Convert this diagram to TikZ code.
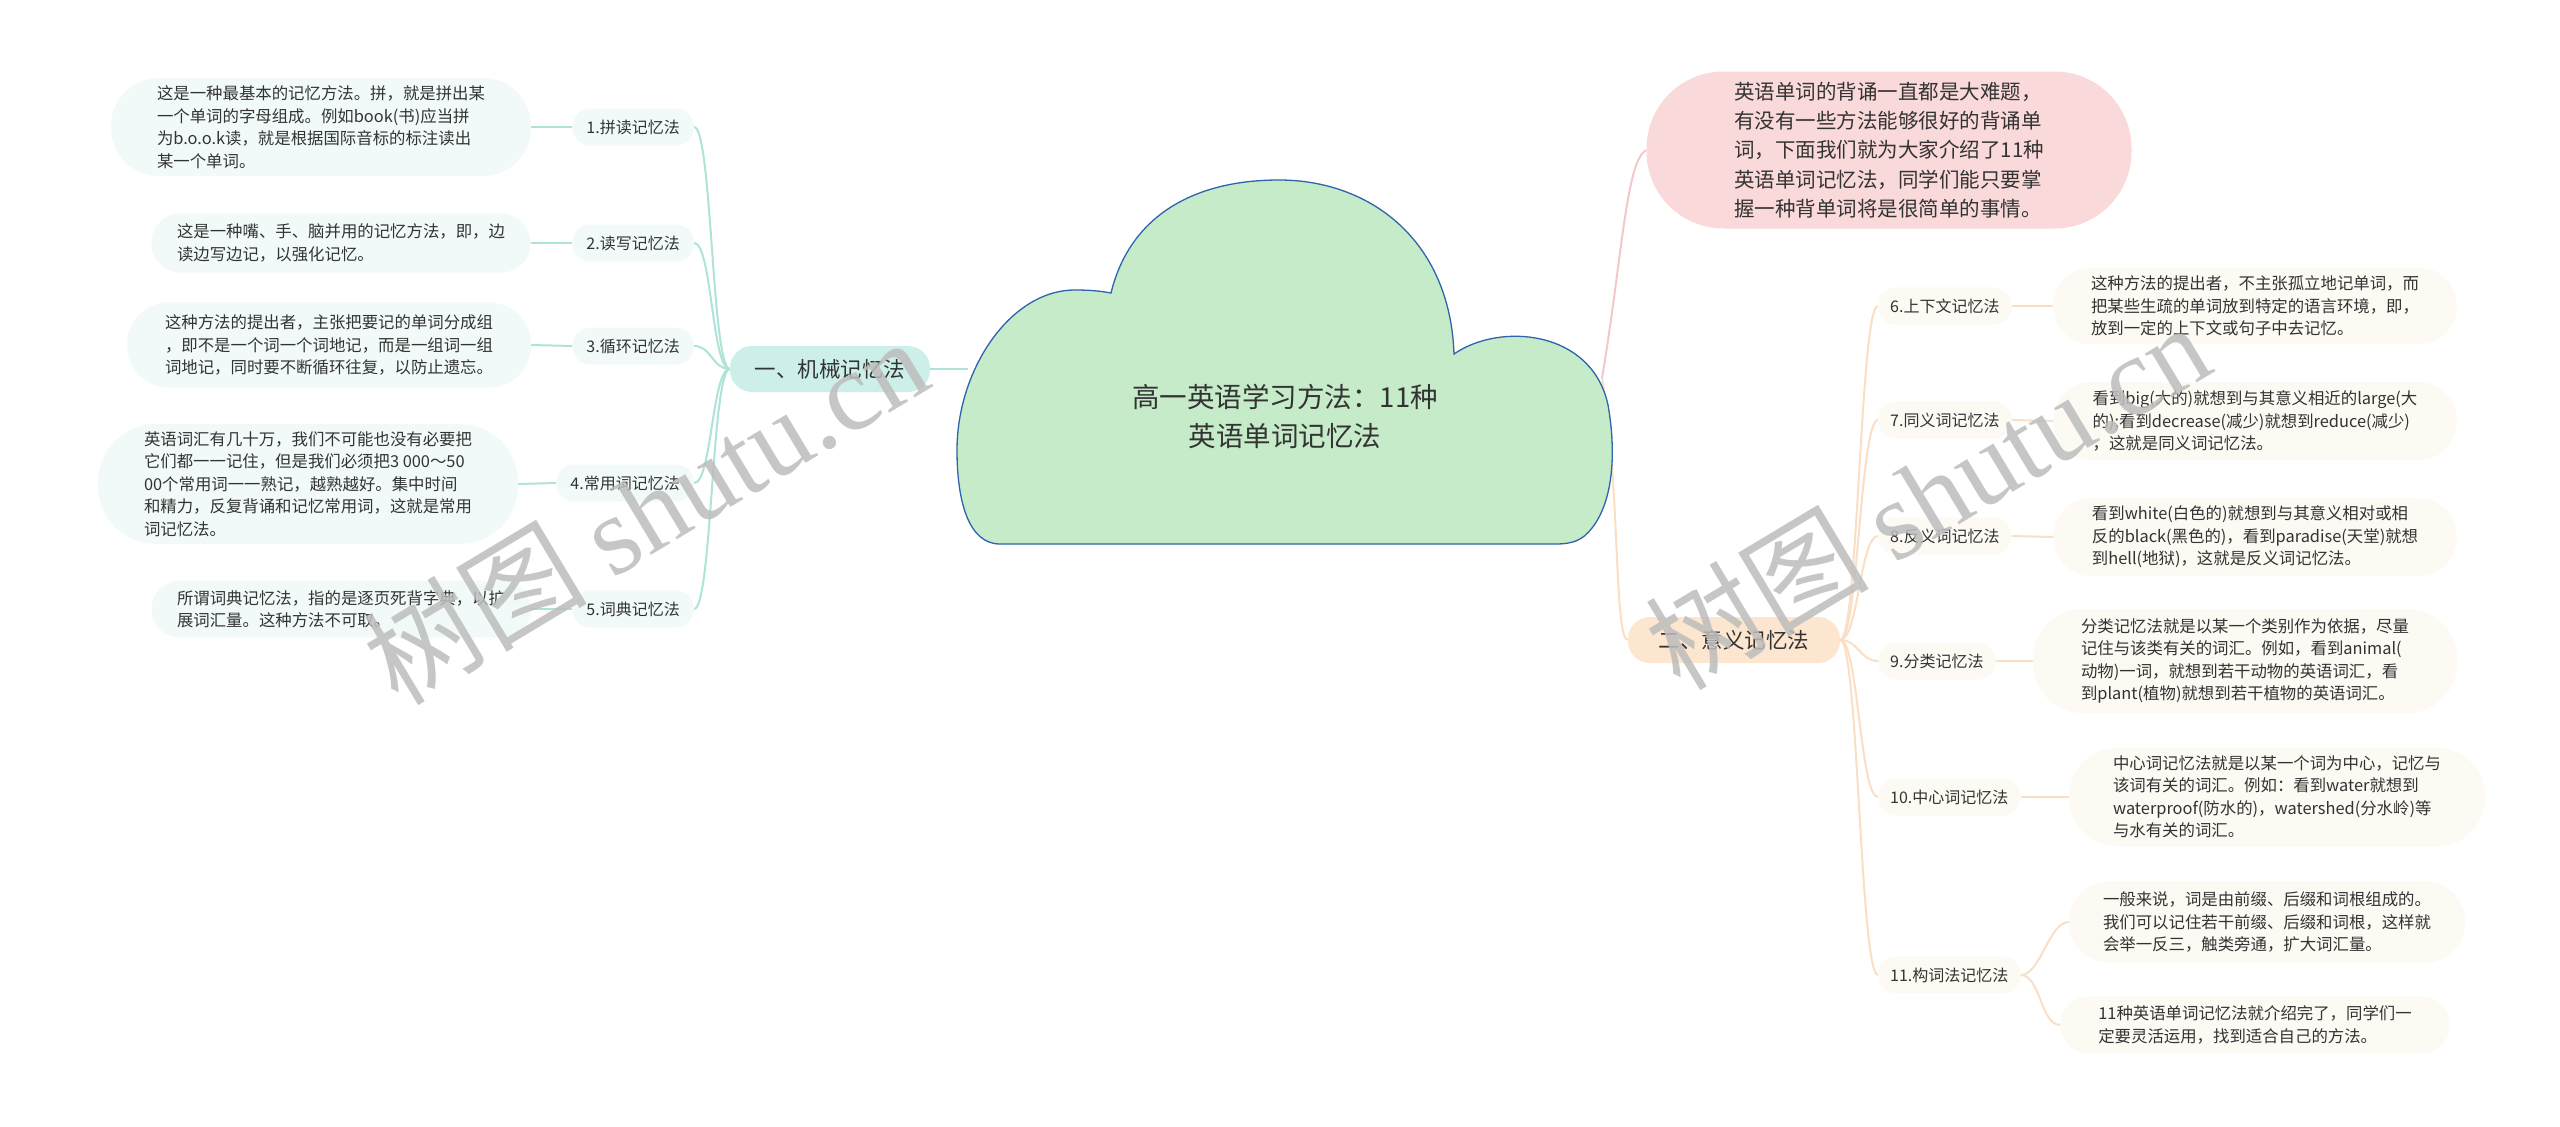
\documentclass[tikz,border=0pt]{standalone}
\usepackage{fontspec}
\setmainfont{Noto Sans CJK SC}
\newfontfamily\wmlatin{Liberation Serif}
\usetikzlibrary{calc}
\pgfdeclarelayer{bottomlayer}
\pgfdeclarelayer{background}
\pgfsetlayers{bottomlayer,background,main}
\definecolor{txt}{HTML}{333333}
\definecolor{tealline}{HTML}{AEE3DA}
\definecolor{tealmain}{HTML}{CDEFE9}
\definecolor{tealleaf}{HTML}{F2FAF9}
\definecolor{orline}{HTML}{FADFC4}
\definecolor{ormain}{HTML}{FDE6CF}
\definecolor{orleaf}{HTML}{FDF9F3}
\definecolor{pinkfill}{HTML}{FAD9DA}
\definecolor{pinkline}{HTML}{F4C8CB}
\definecolor{cloudfill}{HTML}{C6EBC9}
\definecolor{cloudline}{HTML}{2E63AE}
\definecolor{wmgray}{HTML}{BDBDBD}
\begin{document}
\begin{tikzpicture}[x=1pt,y=-1pt,
  base/.style={inner sep=0pt, text=txt, align=left},
  leafL/.style={base, fill=tealleaf, font=\fontsize{16.4pt}{22.5pt}\selectfont},
  leafR/.style={base, fill=orleaf, font=\fontsize{16.4pt}{22.5pt}\selectfont},
  labL/.style={base, fill=tealleaf, minimum height=37pt, inner xsep=14pt, rounded corners=18pt, font=\fontsize{16pt}{20pt}\selectfont},
  labR/.style={base, fill=orleaf, minimum height=37pt, inner xsep=12pt, rounded corners=18pt, font=\fontsize{16pt}{20pt}\selectfont},
  mainT/.style={base, fill=tealmain, minimum width=200pt, minimum height=46pt, rounded corners=22pt, font=\fontsize{21.5pt}{26pt}\selectfont},
  mainO/.style={base, fill=ormain, minimum width=212pt, minimum height=46pt, rounded corners=22pt, font=\fontsize{21.5pt}{26pt}\selectfont},
  lineT/.style={draw=tealline, line width=2pt},
  lineO/.style={draw=orline, line width=2pt},
  lineP/.style={draw=pinkline, line width=2pt},
  wm/.style={text=wmgray, text opacity=0.85, rotate=31, inner sep=0pt}
]
\useasboundingbox (0,0) rectangle (2560,1127);
\begin{pgfonlayer}{bottomlayer}
\fill[white] (0,0) rectangle (2560,1127);
\end{pgfonlayer}

% cloud
\filldraw[fill=cloudfill, draw=cloudline, line width=1.3pt]
  (1000,544) .. controls (968,544) and (957,500) .. (957,450)
  .. controls (957,370) and (1010,290) .. (1075,290)
  .. controls (1090,290) and (1100,291) .. (1111,293)
  .. controls (1130,215) and (1195,180) .. (1279,180)
  .. controls (1370,180) and (1450,240) .. (1454,354)
  .. controls (1500,322) and (1592,330) .. (1608,405)
  .. controls (1616,450) and (1614,500) .. (1592,528)
  .. controls (1582,541) and (1572,544) .. (1555,544)
  -- cycle;
\node[base, align=center, font=\fontsize{27.5pt}{39pt}\selectfont] (center) at (1285,416) {高一英语学习方法：11种\\英语单词记忆法};
\coordinate (cL) at (968,369);
\coordinate (cR) at (1602,378);

% left branch
\node[mainT] (M1) at (830,369) {一、机械记忆法};
\node[labL, anchor=east] (L1) at (694,127) {1.拼读记忆法};
\node[labL, anchor=east] (L2) at (694,243) {2.读写记忆法};
\node[labL, anchor=east] (L3) at (694,346) {3.循环记忆法};
\node[labL, anchor=east] (L4) at (694,483) {4.常用词记忆法};
\node[labL, anchor=east] (L5) at (694,609) {5.词典记忆法};

\node[leafL, minimum width=420pt, minimum height=98pt, rounded corners=48pt] (D1) at (321,127)
  {这是一种最基本的记忆方法。拼，就是拼出某\\一个单词的字母组成。例如book(书)应当拼\\为b.o.o.k读，就是根据国际音标的标注读出\\某一个单词。};
\node[leafL, minimum width=379pt, minimum height=59pt, rounded corners=29pt] (D2) at (341,243)
  {这是一种嘴、手、脑并用的记忆方法，即，边\\读边写边记，以强化记忆。};
\node[leafL, minimum width=404pt, minimum height=85pt, rounded corners=42pt] (D3) at (329,345)
  {这种方法的提出者，主张把要记的单词分成组\\，即不是一个词一个词地记，而是一组词一组\\词地记，同时要不断循环往复，以防止遗忘。};
\node[leafL, minimum width=420pt, minimum height=120pt, rounded corners=58pt] (D4) at (308,484)
  {英语词汇有几十万，我们不可能也没有必要把\\它们都一一记住，但是我们必须把3 000～50\\00个常用词一一熟记，越熟越好。集中时间\\和精力，反复背诵和记忆常用词，这就是常用\\词记忆法。};
\node[leafL, minimum width=379pt, minimum height=57pt, rounded corners=28pt] (D5) at (341,609)
  {所谓词典记忆法，指的是逐页死背字典，以扩\\展词汇量。这种方法不可取。};

% right side
\node[base, fill=pinkfill, minimum width=485pt, minimum height=157pt, rounded corners=77pt, font=\fontsize{20.5pt}{29.4pt}\selectfont] (intro) at (1889,150)
  {英语单词的背诵一直都是大难题，\\有没有一些方法能够很好的背诵单\\词，下面我们就为大家介绍了11种\\英语单词记忆法，同学们能只要掌\\握一种背单词将是很简单的事情。};
\node[mainO] (M2) at (1734,640) {二、意义记忆法};
\node[labR, anchor=west] (R6) at (1878,306) {6.上下文记忆法};
\node[labR, anchor=west] (R7) at (1878,420) {7.同义词记忆法};
\node[labR, anchor=west] (R8) at (1878,536) {8.反义词记忆法};
\node[labR, anchor=west] (R9) at (1878,661) {9.分类记忆法};
\node[labR, anchor=west] (R10) at (1878,797) {10.中心词记忆法};
\node[labR, anchor=west] (R11) at (1878,975) {11.构词法记忆法};

\node[leafR, minimum width=403pt, minimum height=76pt, rounded corners=37pt] (E6) at (2255,306)
  {这种方法的提出者，不主张孤立地记单词，而\\把某些生疏的单词放到特定的语言环境，即，\\放到一定的上下文或句子中去记忆。};
\node[leafR, minimum width=403pt, minimum height=78pt, rounded corners=38pt] (E7) at (2255,421)
  {看到big(大的)就想到与其意义相近的large(大\\的);看到decrease(减少)就想到reduce(减少)\\，这就是同义词记忆法。};
\node[leafR, minimum width=403pt, minimum height=78pt, rounded corners=38pt] (E8) at (2255,537)
  {看到white(白色的)就想到与其意义相对或相\\反的black(黑色的)，看到paradise(天堂)就想\\到hell(地狱)，这就是反义词记忆法。};
\node[leafR, minimum width=424pt, minimum height=104pt, rounded corners=50pt] (E9) at (2245,661)
  {分类记忆法就是以某一个类别作为依据，尽量\\记住与该类有关的词汇。例如，看到animal(\\动物)一词，就想到若干动物的英语词汇，看\\到plant(植物)就想到若干植物的英语词汇。};
\node[leafR, minimum width=416pt, minimum height=98pt, rounded corners=48pt] (E10) at (2277,797)
  {中心词记忆法就是以某一个词为中心，记忆与\\该词有关的词汇。例如：看到water就想到\\waterproof(防水的)，watershed(分水岭)等\\与水有关的词汇。};
\node[leafR, minimum width=396pt, minimum height=81pt, rounded corners=40pt] (E11a) at (2267,922)
  {一般来说，词是由前缀、后缀和词根组成的。\\我们可以记住若干前缀、后缀和词根，这样就\\会举一反三，触类旁通，扩大词汇量。};
\node[leafR, minimum width=389pt, minimum height=57pt, rounded corners=28pt] (E11b) at (2255,1025)
  {11种英语单词记忆法就介绍完了，同学们一\\定要灵活运用，找到适合自己的方法。};

% connectors
\begin{pgfonlayer}{background}
\draw[lineT] (M1.east) -- (cL);
\foreach \n in {L1,L2,L3,L4,L5}
  \draw[lineT] (\n.east) .. controls ($(\n.east)+(18,0)$) and ($(M1.west)+(-18,0)$) .. (M1.west);
\draw[lineT] (D1.east) -- (L1.west);
\draw[lineT] (D2.east) -- (L2.west);
\draw[lineT] (D3.east) -- (L3.west);
\draw[lineT] (D4.east) -- (L4.west);
\draw[lineT] (D5.east) -- (L5.west);
\draw[lineP] (cR) .. controls (1622,260) and (1626,160) .. (intro.west);
\draw[lineO] (cR) .. controls (1620,480) and (1614,640) .. (M2.west);
\foreach \n in {R6,R7,R8,R9,R10,R11}
  \draw[lineO] (M2.east) .. controls ($(M2.east)+(18,0)$) and ($(\n.west)+(-18,0)$) .. (\n.west);
\draw[lineO] (R6.east) -- (E6.west);
\draw[lineO] (R7.east) -- (E7.west);
\draw[lineO] (R8.east) -- (E8.west);
\draw[lineO] (R9.east) -- (E9.west);
\draw[lineO] (R10.east) -- (E10.west);
\draw[lineO] (R11.east) .. controls ($(R11.east)+(20,0)$) and ($(E11a.west)+(-20,0)$) .. (E11a.west);
\draw[lineO] (R11.east) .. controls ($(R11.east)+(20,0)$) and ($(E11b.west)+(-20,0)$) .. (E11b.west);
\end{pgfonlayer}

% watermarks
\node[wm, font=\fontsize{112pt}{112pt}\selectfont] (wm1) at (645,510) {树图 {\wmlatin shutu.cn}};
\node[wm, font=\fontsize{112pt}{112pt}\selectfont] (wm2) at (1927,495) {树图 {\wmlatin shutu.cn}};
\end{tikzpicture}
\end{document}
